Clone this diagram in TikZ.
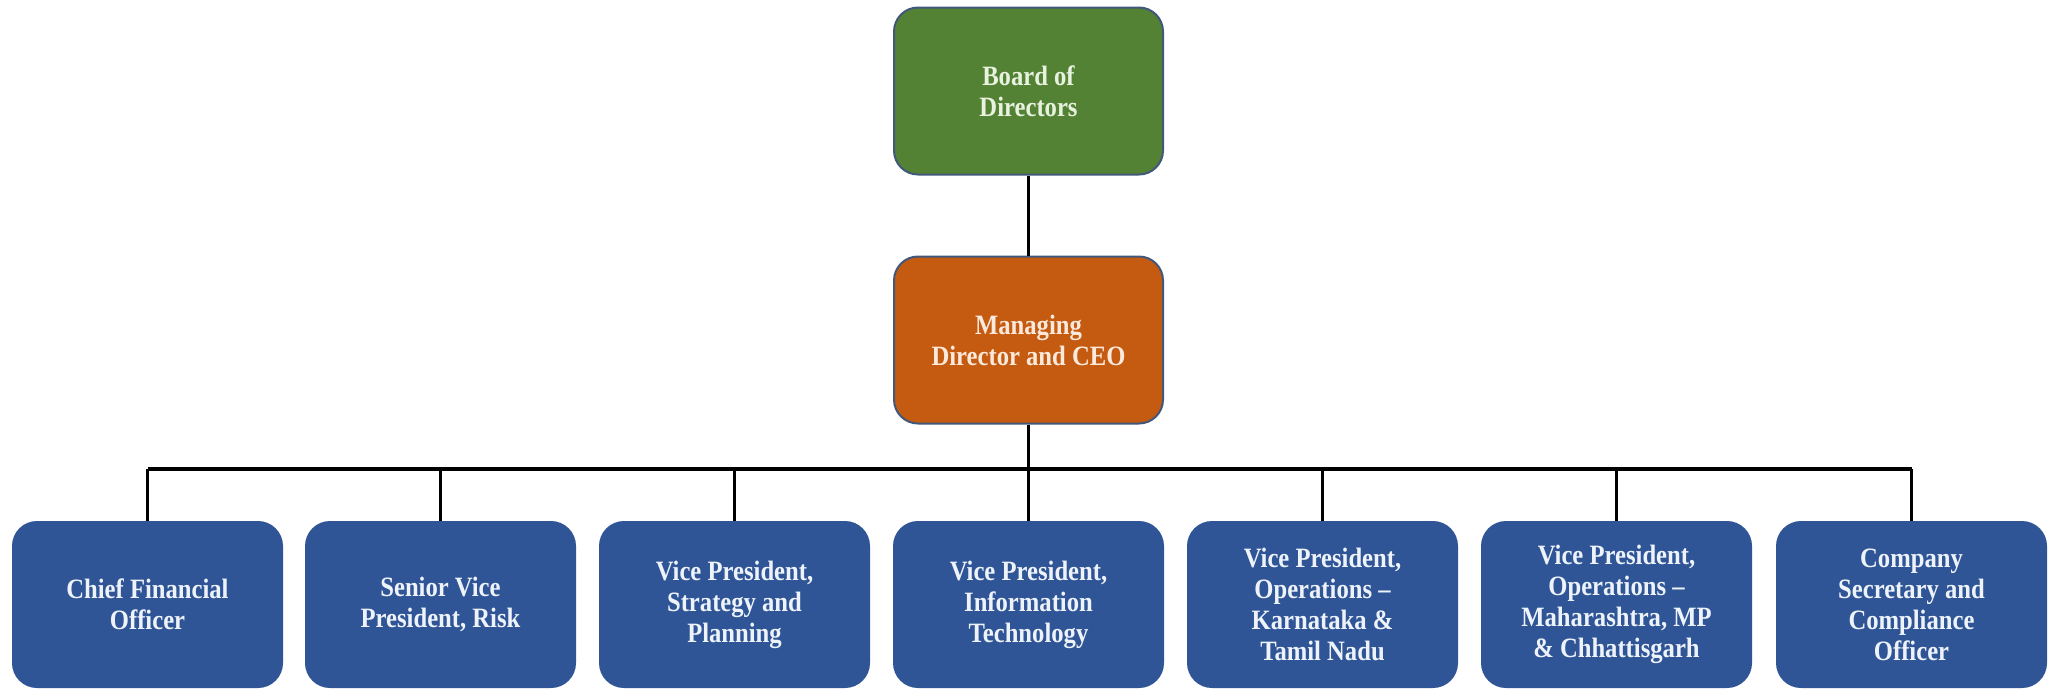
\documentclass[tikz,border=0pt]{standalone}
\usepackage{fontspec}
\setmainfont{Liberation Serif}[FakeStretch=0.88]
\newcommand\orgfont{\fontsize{28}{31}\selectfont\bfseries}
\definecolor{bgreen}{HTML}{548235}
\definecolor{borange}{HTML}{C55A11}
\definecolor{bblue}{HTML}{2F5597}
\definecolor{bedge}{HTML}{41587A}
\definecolor{tgreen}{HTML}{E8F2DF}
\definecolor{torange}{HTML}{FBEADC}
\definecolor{tblue}{HTML}{EEF3FA}
\begin{document}
\begin{tikzpicture}[x=1pt,y=-1pt,
  orgbox/.style={draw=bedge, line width=2pt, rounded corners=24pt, minimum width=269pt,
    minimum height=167pt, text width=260pt, align=flush center, inner sep=0pt,
    font=\orgfont},
  topbox/.style={orgbox, fill=bgreen, text=tgreen},
  midbox/.style={orgbox, fill=borange, text=torange},
  lowbox/.style={orgbox, draw=bblue, fill=bblue, text=tblue, minimum height=165pt},
  link/.style={draw=black, line width=3.2pt}]
\useasboundingbox (0,0) rectangle (2058,689);
\node[topbox] (board) at (1028.5,91) {Board of\\Directors};
\node[midbox] (md) at (1028.5,340) {Managing\\Director and CEO};
\coordinate (bus) at (0,469);
\node[lowbox] (c1) at (147.5,604.5) {Chief Financial\\Officer};
\node[lowbox] (c2) at (440.5,604.5) {Senior Vice\\President, Risk};
\node[lowbox] (c3) at (734.5,604.5) {Vice President,\\Strategy and\\Planning};
\node[lowbox] (c4) at (1028.5,604.5) {Vice President,\\Information\\Technology};
\node[lowbox] (c5) at (1322.5,604.5) {Vice President,\\Operations –\\Karnataka \&\\Tamil Nadu};
\node[lowbox] (c6) at (1616.5,604.5) {Vice President,\\Operations –\\Maharashtra, MP\\\& Chhattisgarh};
\node[lowbox] (c7) at (1911.5,604.5) {Company\\Secretary and\\Compliance\\Officer};
\draw[link] (board.south) -- (md.north);
\draw[link] (md.south) -- (md.south |- bus);
\draw[link] (c1.north |- bus) -- (c7.north |- bus);
\foreach \c in {c1,c2,c3,c4,c5,c6,c7}
  \draw[link] (\c.north |- bus) -- (\c.north);
\end{tikzpicture}
\end{document}
